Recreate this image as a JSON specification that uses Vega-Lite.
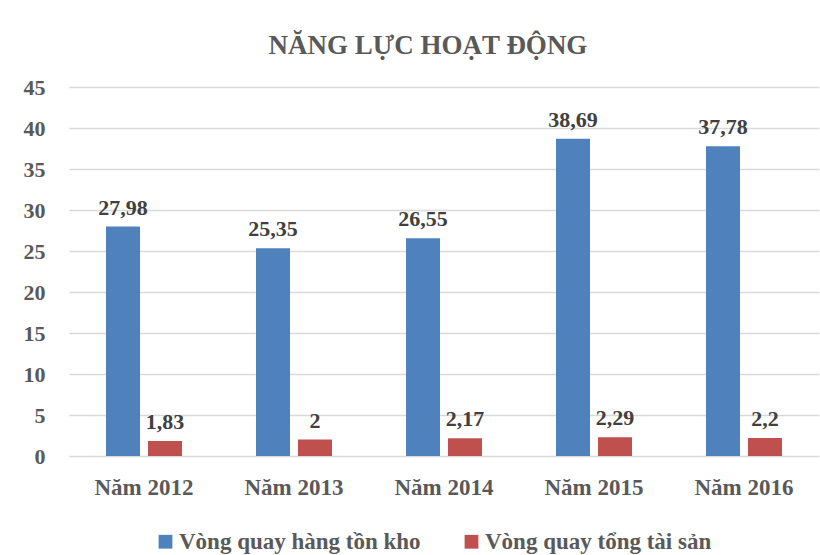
{
  "$schema": "https://vega.github.io/schema/vega-lite/v6.json",
  "width": 750,
  "height": 369,
  "autosize": {"type": "none"},
  "padding": {"left": 69, "top": 87, "right": 1, "bottom": 99},
  "background": "white",
  "config": {"view": {"stroke": null}, "font": "Liberation Serif"},
  "title": {
    "text": "NĂNG LỰC HOẠT ĐỘNG",
    "font": "Liberation Serif",
    "fontSize": 27,
    "fontWeight": "bold",
    "color": "#595959",
    "anchor": "middle",
    "frame": "group",
    "dx": -16,
    "offset": 16
  },
  "data": {
    "values": [
      {"year": "Năm 2012", "series": "Vòng quay hàng tồn kho", "value": 27.98, "label": "27,98"},
      {"year": "Năm 2012", "series": "Vòng quay tổng tài sản", "value": 1.83, "label": "1,83"},
      {"year": "Năm 2013", "series": "Vòng quay hàng tồn kho", "value": 25.35, "label": "25,35"},
      {"year": "Năm 2013", "series": "Vòng quay tổng tài sản", "value": 2, "label": "2"},
      {"year": "Năm 2014", "series": "Vòng quay hàng tồn kho", "value": 26.55, "label": "26,55"},
      {"year": "Năm 2014", "series": "Vòng quay tổng tài sản", "value": 2.17, "label": "2,17"},
      {"year": "Năm 2015", "series": "Vòng quay hàng tồn kho", "value": 38.69, "label": "38,69"},
      {"year": "Năm 2015", "series": "Vòng quay tổng tài sản", "value": 2.29, "label": "2,29"},
      {"year": "Năm 2016", "series": "Vòng quay hàng tồn kho", "value": 37.78, "label": "37,78"},
      {"year": "Năm 2016", "series": "Vòng quay tổng tài sản", "value": 2.2, "label": "2,2"}
    ]
  },
  "encoding": {
    "x": {
      "field": "year",
      "type": "nominal",
      "sort": null,
      "scale": {"paddingInner": 0.4933, "paddingOuter": 0.2467},
      "axis": {
        "title": null,
        "labelAngle": 0,
        "labelFont": "Liberation Serif",
        "labelFontSize": 23,
        "labelFontWeight": "bold",
        "labelColor": "#595959",
        "labelPadding": 20,
        "ticks": false,
        "domain": false
      }
    },
    "xOffset": {
      "field": "series",
      "type": "nominal",
      "scale": {"domain": ["Vòng quay hàng tồn kho", "Vòng quay tổng tài sản"], "paddingInner": 0.19, "paddingOuter": 0}
    },
    "y": {
      "field": "value",
      "type": "quantitative",
      "scale": {"domain": [0, 45], "nice": false},
      "axis": {
        "title": null,
        "values": [0, 5, 10, 15, 20, 25, 30, 35, 40, 45],
        "labelFont": "Liberation Serif",
        "labelFontSize": 22,
        "labelFontWeight": "bold",
        "labelColor": "#595959",
        "labelPadding": 24,
        "ticks": false,
        "domain": false,
        "grid": true,
        "gridColor": "#D9D9D9",
        "gridWidth": 1.5
      }
    }
  },
  "layer": [
    {
      "mark": {"type": "bar"},
      "encoding": {
        "color": {
          "field": "series",
          "type": "nominal",
          "scale": {"domain": ["Vòng quay hàng tồn kho", "Vòng quay tổng tài sản"], "range": ["#4F81BD", "#C0504D"]},
          "legend": {
            "title": null,
            "orient": "none",
            "direction": "horizontal",
            "legendX": 85,
            "legendY": 443,
            "symbolType": "square",
            "symbolSize": 190,
            "symbolStrokeWidth": 0,
            "symbolOpacity": 1,
            "labelFont": "Liberation Serif",
            "labelFontSize": 23,
            "labelFontWeight": "bold",
            "labelColor": "#595959",
            "labelOffset": 2,
            "columnPadding": 39,
            "labelLimit": 400
          }
        }
      }
    },
    {
      "mark": {"type": "text", "baseline": "bottom", "dy": -7, "font": "Liberation Serif", "fontSize": 22, "fontWeight": "bold", "color": "#404040"},
      "encoding": {"text": {"field": "label"}}
    }
  ]
}
